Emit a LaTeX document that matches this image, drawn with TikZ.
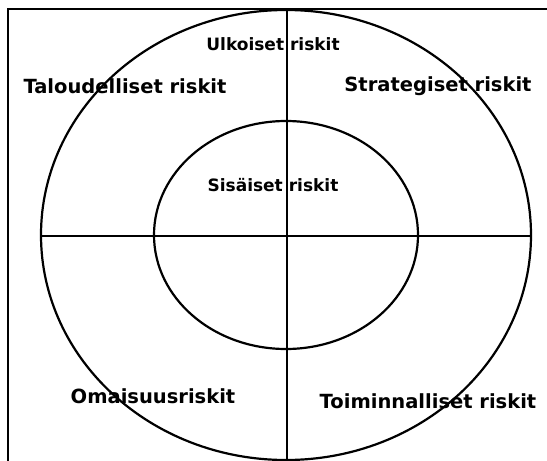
\documentclass[tikz,border=0pt]{standalone}
\usepackage{fontspec}
\setmainfont{DejaVu Sans}
\begin{document}
\begin{tikzpicture}[x=1pt,y=-1pt,
  ln/.style={line width=2.2pt,black},
  heavy/.style={font=\fontsize{19.5}{20}\selectfont\bfseries,inner sep=0pt},
  lite/.style={font=\fontsize{17}{18}\selectfont\bfseries,inner sep=0pt}]
\useasboundingbox (0,0) rectangle (547,461);
\coordinate (fbl) at (8,461);
\coordinate (ftl) at (8,9);
\coordinate (ftr) at (547,9);
\draw[ln] (fbl) -- (ftl) -- (ftr);
\coordinate (c) at (286,235);
\draw[ln] (c) ellipse [x radius=245, y radius=225];
\draw[ln] (c) ellipse [x radius=132, y radius=114];
\coordinate (hl) at (41,236);
\coordinate (hr) at (531,236);
\coordinate (vt) at (287,9);
\coordinate (vb) at (287,461);
\draw[ln] (hl) -- (hr);
\draw[ln] (vt) -- (vb);
\node[lite] (ulk) at (273,44) {Ulkoiset riskit};
\node[heavy] (tal) at (125,86) {Taloudelliset riskit};
\node[heavy] (str) at (438,86) {Strategiset riskit};
\node[lite] (sis) at (273,185) {Sisäiset riskit};
\node[heavy] (oma) at (153,396) {Omaisuusriskit};
\node[heavy] (toi) at (428,401) {Toiminnalliset riskit};
\end{tikzpicture}
\end{document}
